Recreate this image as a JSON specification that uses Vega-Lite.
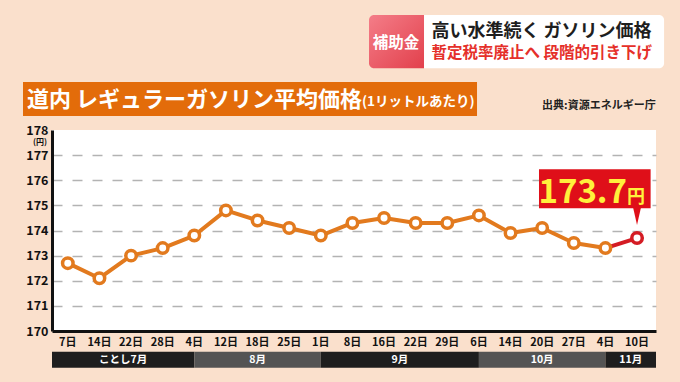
{
  "$schema": "https://vega.github.io/schema/vega-lite/v6.json",
  "width": 604,
  "height": 201,
  "autosize": {"type": "none"},
  "padding": {"left": 52, "top": 130, "right": 24, "bottom": 51},
  "background": "#fae0cc",
  "view": {"fill": "white", "stroke": null},
  "config": {
    "font": "Noto Sans CJK JP",
    "axis": {"titleOpacity": 0},
    "axisY": {"labelOverlap": false, "labelFlush": false, "ticks": false, "labelPadding": 4,
      "labelFont": "Noto Sans CJK JP", "labelFontWeight": "bold", "labelFontSize": 12.5, "labelColor": "#111111",
      "domainColor": "#111111", "domainWidth": 3, "grid": true, "gridColor": "#b3b3b3", "gridWidth": 1.5, "gridDash": [10, 10]},
    "axisX": {"labels": false, "ticks": false, "grid": false, "domainColor": "#111111", "domainWidth": 3}
  },
  "datasets": {
    "prices": [
      {"i": 0, "date": "2025-07-07", "day": "7日", "price": 172.7},
      {"i": 1, "date": "2025-07-14", "day": "14日", "price": 172.1},
      {"i": 2, "date": "2025-07-22", "day": "22日", "price": 173.0},
      {"i": 3, "date": "2025-07-28", "day": "28日", "price": 173.3},
      {"i": 4, "date": "2025-08-04", "day": "4日", "price": 173.8},
      {"i": 5, "date": "2025-08-12", "day": "12日", "price": 174.8},
      {"i": 6, "date": "2025-08-18", "day": "18日", "price": 174.4},
      {"i": 7, "date": "2025-08-25", "day": "25日", "price": 174.1},
      {"i": 8, "date": "2025-09-01", "day": "1日", "price": 173.8},
      {"i": 9, "date": "2025-09-08", "day": "8日", "price": 174.3},
      {"i": 10, "date": "2025-09-16", "day": "16日", "price": 174.5},
      {"i": 11, "date": "2025-09-22", "day": "22日", "price": 174.3},
      {"i": 12, "date": "2025-09-29", "day": "29日", "price": 174.3},
      {"i": 13, "date": "2025-10-06", "day": "6日", "price": 174.6},
      {"i": 14, "date": "2025-10-14", "day": "14日", "price": 173.9},
      {"i": 15, "date": "2025-10-20", "day": "20日", "price": 174.1},
      {"i": 16, "date": "2025-10-27", "day": "27日", "price": 173.5},
      {"i": 17, "date": "2025-11-04", "day": "4日", "price": 173.3},
      {"i": 18, "date": "2025-11-10", "day": "10日", "price": 173.7}
    ],
    "months": [
      {"month": "ことし7月", "start": -0.5, "end": 4},
      {"month": "8月", "start": 4, "end": 8},
      {"month": "9月", "start": 8, "end": 13},
      {"month": "10月", "start": 13, "end": 17},
      {"month": "11月", "start": 17, "end": 18.6}
    ]
  },
  "layer": [
    {
      "data": {"name": "prices"},
      "transform": [{"filter": "datum.i <= 17"}],
      "mark": {"type": "line", "color": "#e27a1e", "strokeWidth": 4, "strokeJoin": "round", "strokeCap": "round"},
      "encoding": {
        "x": {"field": "i", "type": "quantitative", "scale": {"domain": [-0.5, 18.6], "nice": false, "zero": false},
          "axis": {"title": null}},
        "y": {"field": "price", "type": "quantitative", "scale": {"domain": [170, 178], "nice": false, "zero": false},
          "axis": {"title": null, "values": [170, 171, 172, 173, 174, 175, 176, 177, 178],
            "gridOpacity": {"condition": {"test": "datum.value >= 178 || datum.value <= 170", "value": 0}, "value": 1}}}
      }
    },
    {
      "data": {"name": "prices"},
      "transform": [{"filter": "datum.i >= 17"}],
      "mark": {"type": "line", "color": "#d41c24", "strokeWidth": 4, "strokeCap": "round"},
      "encoding": {
        "x": {"field": "i", "type": "quantitative"},
        "y": {"field": "price", "type": "quantitative", "axis": {"values": [170, 171, 172, 173, 174, 175, 176, 177, 178]}}
      }
    },
    {
      "data": {"name": "prices"},
      "mark": {"type": "point", "shape": "circle", "filled": true, "fill": "white", "strokeWidth": 3.5, "size": 110, "opacity": 1},
      "encoding": {
        "x": {"field": "i", "type": "quantitative"},
        "y": {"field": "price", "type": "quantitative", "axis": {"values": [170, 171, 172, 173, 174, 175, 176, 177, 178]}},
        "stroke": {"condition": {"test": "datum.i === 18", "value": "#d41c24"}, "value": "#e27a1e"}
      }
    },
    {
      "data": {"name": "prices"},
      "mark": {"type": "text", "fontSize": 11, "fontWeight": "bold", "color": "#111111", "baseline": "middle"},
      "encoding": {
        "x": {"field": "i", "type": "quantitative"},
        "y": {"datum": 169.534, "axis": {"values": [170, 171, 172, 173, 174, 175, 176, 177, 178]}},
        "text": {"field": "day"}
      }
    },
    {
      "data": {"name": "months"},
      "mark": {"type": "rect"},
      "encoding": {
        "x": {"field": "start", "type": "quantitative"},
        "x2": {"field": "end"},
        "y": {"datum": 169.176, "axis": {"values": [170, 171, 172, 173, 174, 175, 176, 177, 178]}},
        "y2": {"datum": 168.54},
        "color": {"field": "month", "type": "nominal", "legend": null,
          "scale": {"domain": ["ことし7月", "8月", "9月", "10月", "11月"], "range": ["#1e1e1e", "#545454", "#1e1e1e", "#545454", "#1e1e1e"]}}
      }
    },
    {
      "data": {"name": "months"},
      "transform": [{"calculate": "(datum.start + datum.end) / 2", "as": "mid"}],
      "mark": {"type": "text", "fontSize": 10.5, "fontWeight": "bold", "color": "white", "baseline": "middle"},
      "encoding": {
        "x": {"field": "mid", "type": "quantitative"},
        "y": {"datum": 168.846, "axis": {"values": [170, 171, 172, 173, 174, 175, 176, 177, 178]}},
        "text": {"field": "month"}
      }
    },
    {
      "data": {"values": [{}]},
      "mark": {"type": "text", "text": "(円)", "fontSize": 8, "fontWeight": "bold", "color": "#111111", "baseline": "middle"},
      "encoding": {"x": {"datum": -0.88}, "y": {"datum": 177.5, "axis": {"values": [170, 171, 172, 173, 174, 175, 176, 177, 178]}}}
    },
    {
      "data": {"values": [{}]},
      "mark": {"type": "rect", "fill": "#e36c0a"},
      "encoding": {"x": {"datum": -1.417}, "x2": {"datum": 12.94}, "y": {"datum": 179.91, "axis": {"values": [170, 171, 172, 173, 174, 175, 176, 177, 178]}}, "y2": {"datum": 178.557}}
    },
    {
      "data": {"values": [{}]},
      "mark": {"type": "text", "text": "道内 レギュラーガソリン平均価格", "fontSize": 22, "fontWeight": "bold", "color": "white", "align": "left", "baseline": "middle"},
      "encoding": {"x": {"datum": -1.29}, "y": {"datum": 179.19, "axis": {"values": [170, 171, 172, 173, 174, 175, 176, 177, 178]}}}
    },
    {
      "data": {"values": [{}]},
      "mark": {"type": "text", "text": "(1リットルあたり)", "fontSize": 13.5, "fontWeight": "bold", "color": "white", "align": "left", "baseline": "middle"},
      "encoding": {"x": {"datum": 9.3}, "y": {"datum": 179.11, "axis": {"values": [170, 171, 172, 173, 174, 175, 176, 177, 178]}}}
    },
    {
      "data": {"values": [{}]},
      "mark": {"type": "text", "text": "出典:資源エネルギー庁", "fontSize": 11, "fontWeight": "bold", "color": "#222222", "align": "right", "baseline": "middle"},
      "encoding": {"x": {"datum": 18.59}, "y": {"datum": 178.955, "axis": {"values": [170, 171, 172, 173, 174, 175, 176, 177, 178]}}}
    },
    {
      "data": {"values": [{}]},
      "mark": {"type": "rect", "cornerRadiusTopLeft": 5, "cornerRadiusBottomLeft": 5,
        "fill": {"gradient": "linear", "x1": 0, "y1": 0, "x2": 1, "y2": 1, "stops": [{"offset": 0, "color": "#f47d88"}, {"offset": 1, "color": "#e2404c"}]}},
      "encoding": {"x": {"datum": 9.525}, "x2": {"datum": 11.265}, "y": {"datum": 182.577, "axis": {"values": [170, 171, 172, 173, 174, 175, 176, 177, 178]}}, "y2": {"datum": 180.456}}
    },
    {
      "data": {"values": [{}]},
      "mark": {"type": "rect", "fill": "white", "cornerRadiusTopRight": 5, "cornerRadiusBottomRight": 5},
      "encoding": {"x": {"datum": 11.265}, "x2": {"datum": 18.855}, "y": {"datum": 182.577, "axis": {"values": [170, 171, 172, 173, 174, 175, 176, 177, 178]}}, "y2": {"datum": 180.456}}
    },
    {
      "data": {"values": [{}]},
      "mark": {"type": "text", "text": "補助金", "fontSize": 15.5, "fontWeight": "bold", "color": "white", "align": "center", "baseline": "middle"},
      "encoding": {"x": {"datum": 10.38}, "y": {"datum": 181.46, "axis": {"values": [170, 171, 172, 173, 174, 175, 176, 177, 178]}}}
    },
    {
      "data": {"values": [{}]},
      "mark": {"type": "text", "text": "高い水準続く ガソリン価格", "fontSize": 18, "fontWeight": "bold", "color": "#1e1e1e", "align": "left", "baseline": "middle"},
      "encoding": {"x": {"datum": 11.5}, "y": {"datum": 181.91, "axis": {"values": [170, 171, 172, 173, 174, 175, 176, 177, 178]}}}
    },
    {
      "data": {"values": [{}]},
      "mark": {"type": "text", "text": "暫定税率廃止へ 段階的引き下げ", "fontSize": 15.5, "fontWeight": "bold", "color": "#e5302a", "align": "left", "baseline": "middle"},
      "encoding": {"x": {"datum": 11.5}, "y": {"datum": 181.05, "axis": {"values": [170, 171, 172, 173, 174, 175, 176, 177, 178]}}}
    },
    {
      "data": {"values": [{}]},
      "mark": {"type": "rect", "fill": "#df0f19"},
      "encoding": {"x": {"datum": 14.9}, "x2": {"datum": 18.43}, "y": {"datum": 176.436, "axis": {"values": [170, 171, 172, 173, 174, 175, 176, 177, 178]}}, "y2": {"datum": 174.884}}
    },
    {
      "data": {"name": "prices"},
      "transform": [{"filter": "datum.i === 18"}],
      "mark": {"type": "point", "shape": "M-0.45,-1L0.45,-1L0,1Z", "filled": true, "fill": "#df0f19", "size": 324, "opacity": 1, "strokeWidth": 0},
      "encoding": {"x": {"field": "i", "type": "quantitative"}, "y": {"datum": 174.577, "axis": {"values": [170, 171, 172, 173, 174, 175, 176, 177, 178]}}}
    },
    {
      "data": {"name": "prices"},
      "transform": [{"filter": "datum.i === 18"}],
      "mark": {"type": "text", "fontSize": 33, "fontWeight": "bold", "color": "#fff03c", "align": "right", "baseline": "alphabetic"},
      "encoding": {"x": {"datum": 17.685}, "y": {"datum": 175.08, "axis": {"values": [170, 171, 172, 173, 174, 175, 176, 177, 178]}}, "text": {"field": "price", "type": "quantitative", "format": ".1f"}}
    },
    {
      "data": {"values": [{}]},
      "mark": {"type": "text", "text": "円", "fontSize": 18, "fontWeight": "bold", "color": "#fff03c", "align": "left", "baseline": "alphabetic"},
      "encoding": {"x": {"datum": 17.685}, "y": {"datum": 175.08, "axis": {"values": [170, 171, 172, 173, 174, 175, 176, 177, 178]}}}
    }
  ]
}
